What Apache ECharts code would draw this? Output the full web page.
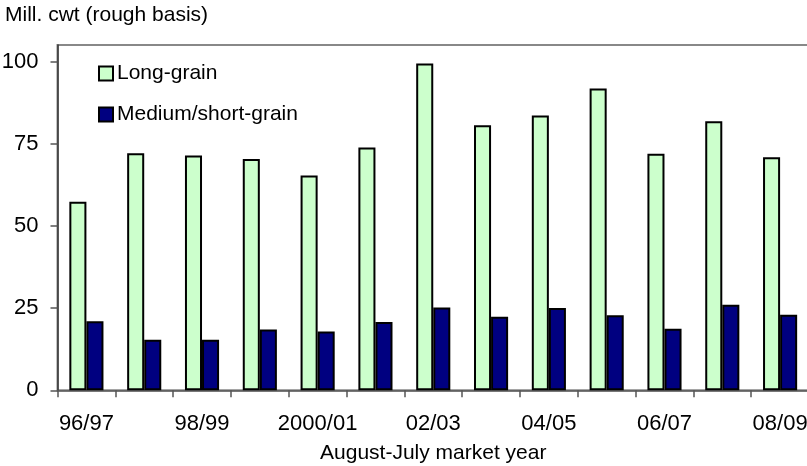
<!DOCTYPE html>
<html>
<head>
<meta charset="utf-8">
<script src="https://cdn.jsdelivr.net/npm/echarts@6/dist/echarts.min.js"></script>
<style>
  html, body { margin: 0; padding: 0; background: #fff; }
  #chart { width: 807px; height: 466px; }
</style>
</head>
<body>
<div id="chart"></div>
<script>
// Market years (August-July)
const years = ['96/97', '97/98', '98/99', '99/00', '2000/01', '01/02', '02/03',
               '03/04', '04/05', '05/06', '06/07', '07/08', '08/09'];
// Million cwt, rough basis
const longGrain = [57.3, 72.1, 71.4, 70.3, 65.3, 73.8, 99.4, 80.6, 83.6, 91.8, 71.9, 81.8, 70.9];
const mediumShortGrain = [21.0, 15.4, 15.4, 18.5, 17.9, 20.8, 25.2, 22.4, 25.0, 22.8, 18.7, 26.0, 23.0];
const yTicks = [0, 25, 50, 75, 100];

const FONT = '"Liberation Sans", Arial, sans-serif';
const FS = 21;      // title, legend, axis name
const FS_TICK = 22; // axis tick labels
const chart = echarts.init(document.getElementById('chart'), null, { renderer: 'canvas' });

chart.setOption({
  animation: false,
  backgroundColor: '#ffffff',
  textStyle: { fontFamily: FONT, color: '#000' },
  title: {
    text: 'Mill. cwt (rough basis)',
    left: 5,
    top: 5,
    padding: 0,
    textStyle: { fontFamily: FONT, fontSize: FS, fontWeight: 'normal', color: '#000' }
  },
  legend: {
    orient: 'vertical',
    left: 98,
    top: 63,
    padding: 0,
    itemWidth: 14,
    itemHeight: 14,
    itemGap: 20,
    icon: 'rect',
    itemStyle: { borderColor: '#000', borderWidth: 2 },
    textStyle: { fontFamily: FONT, fontSize: FS, color: '#000', lineHeight: 21, padding: [0, 0, 0, -1] },
    data: ['Long-grain', 'Medium/short-grain']
  },
  grid: {
    left: 57.5,
    right: -2,
    top: 45,
    bottom: 75.7,
    show: true,
    borderColor: '#888',
    borderWidth: 2,
    containLabel: false,
    outerBoundsMode: 'none'
  },
  xAxis: {
    type: 'category',
    data: years,
    boundaryGap: true,
    name: 'August-July market year',
    nameLocation: 'middle',
    nameGap: 52,
    nameTextStyle: { fontFamily: FONT, fontSize: FS, color: '#000' },
    axisLine: { lineStyle: { color: '#555', width: 1.5 } },
    axisTick: { show: true, interval: 0, length: 7, lineStyle: { color: '#555', width: 1.5 } },
    axisLabel: { interval: 1, margin: 23, fontFamily: FONT, fontSize: FS_TICK, color: '#000' },
    splitLine: { show: false }
  },
  yAxis: {
    type: 'value',
    min: 0,
    max: 105,
    interval: 25,
    axisLine: { show: true, lineStyle: { color: '#333', width: 1.5 } },
    axisTick: { show: true, length: 7, customValues: yTicks, lineStyle: { color: '#555', width: 1.5 } },
    axisLabel: { margin: 19, customValues: yTicks, fontFamily: FONT, fontSize: FS_TICK, color: '#000' },
    splitLine: { show: false }
  },
  series: [
    {
      name: 'Long-grain',
      type: 'bar',
      data: longGrain,
      barGap: '0%',
      barCategoryGap: '41%',
      itemStyle: { color: '#CCFFCC', borderColor: '#000', borderWidth: 2 }
    },
    {
      name: 'Medium/short-grain',
      type: 'bar',
      data: mediumShortGrain,
      barGap: '0%',
      barCategoryGap: '41%',
      itemStyle: { color: '#000080', borderColor: '#000', borderWidth: 2 }
    }
  ]
});
</script>
</body>
</html>
